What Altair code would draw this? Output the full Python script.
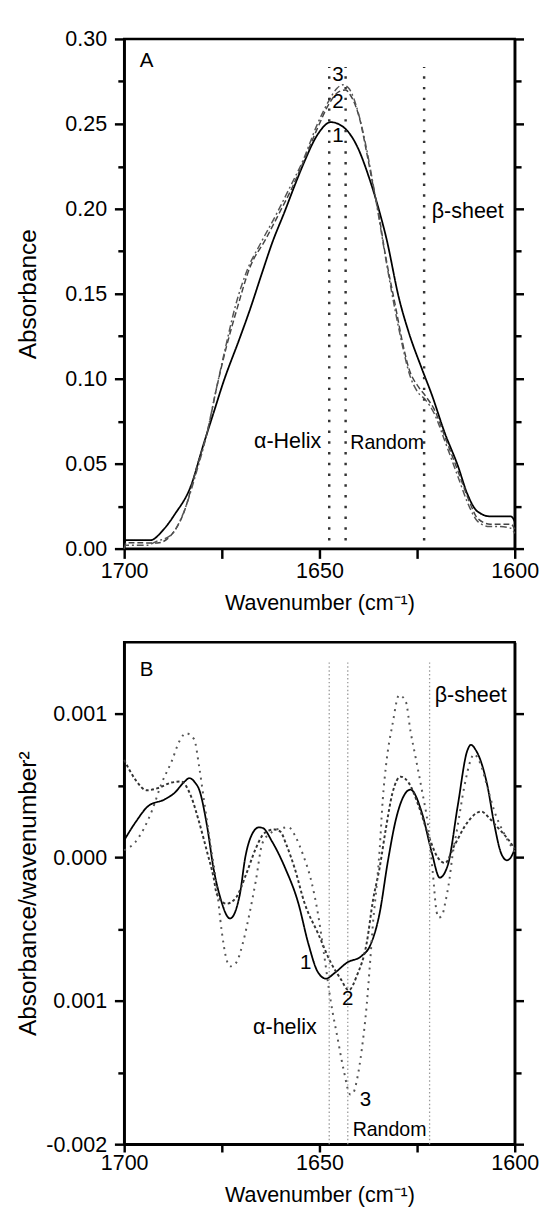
import altair as alt
import pandas as pd

FONT = "Liberation Sans"

# ---------------- Panel A: absorbance ----------------
a1_wn = [1700, 1699.6, 1693.3, 1690.0, 1687.1, 1682.9, 1679.6, 1677.1, 1674.6, 1670.4, 1667.9, 1664.6,
         1662.1, 1658.8, 1656.3, 1654.0, 1650.4, 1647.1, 1643.8, 1640.4, 1637.1, 1634.6, 1632.9, 1629.6,
         1627.1, 1623.8, 1621.3, 1617.9, 1614.6, 1612.1, 1609.6, 1606.3, 1601.0, 1600.0]
a1_y = [0.000, 0.005, 0.005, 0.011, 0.020, 0.037, 0.062, 0.080, 0.098, 0.124, 0.140, 0.163,
        0.180, 0.199, 0.214, 0.227, 0.244, 0.251, 0.248, 0.237, 0.217, 0.198, 0.183, 0.147,
        0.127, 0.106, 0.091, 0.068, 0.049, 0.032, 0.022, 0.019, 0.019, 0.016]

a2_wn = [1700, 1699.5, 1691.5, 1687.1, 1684.6, 1681.3, 1678.8, 1676.3, 1673.8, 1671.0, 1667.9, 1663.8,
         1660.4, 1657.1, 1654.6, 1650.4, 1647.5, 1645.0, 1643.3, 1642.1, 1639.6, 1637.9, 1636.3, 1634.6,
         1633.5, 1630.4, 1628.8, 1627.1, 1624.6, 1622.9, 1620.4, 1617.9, 1614.6, 1611.3, 1609.6, 1606.3,
         1601.0, 1600.0]
a2_y = [0.000, 0.0035, 0.0033, 0.0105, 0.022, 0.049, 0.068, 0.095, 0.119, 0.142, 0.165, 0.182,
        0.197, 0.212, 0.225, 0.248, 0.262, 0.269, 0.270, 0.267, 0.252, 0.233, 0.214, 0.194,
        0.178, 0.141, 0.122, 0.106, 0.095, 0.090, 0.081, 0.066, 0.046, 0.026, 0.018, 0.0144,
        0.0144, 0.0115]

a3_wn = [1700, 1699.5, 1694.0, 1692.0, 1688.0, 1685.0, 1681.5, 1679.0, 1676.5, 1674.0, 1671.5, 1668.5,
         1665.0, 1661.0, 1657.5, 1654.5, 1650.5, 1647.5, 1645.5, 1644.0, 1642.5, 1640.0, 1638.0, 1636.3,
         1634.8, 1633.5, 1630.6, 1628.8, 1627.0, 1624.8, 1623.0, 1620.5, 1618.0, 1614.8, 1611.5, 1609.5,
         1606.5, 1604.0, 1601.0, 1600.0]
a3_y = [0.000, 0.002, 0.002, 0.004, 0.008, 0.020, 0.045, 0.066, 0.093, 0.119, 0.143, 0.164,
        0.180, 0.197, 0.213, 0.227, 0.250, 0.264, 0.271, 0.273, 0.271, 0.256, 0.236, 0.215,
        0.195, 0.177, 0.140, 0.120, 0.103, 0.092, 0.088, 0.079, 0.064, 0.044, 0.024, 0.016,
        0.013, 0.013, 0.012, 0.009]

a_rule_wn = [1647.5, 1643.3, 1623.2]
a_rule_lo = [0.0048, 0.0048, 0.0048]
a_rule_hi = [0.2835, 0.2835, 0.2835]

a_lab_text = ["A", "3", "2", "1", "β-sheet", "α-Helix", "Random"]
a_lab_wn = [1694.25, 1645.25, 1645.25, 1645.25, 1621.25, 1666.75, 1642.1]
a_lab_y = [0.2868, 0.2787, 0.2626, 0.2425, 0.1989, 0.0632, 0.0622]
a_lab_align = ["center", "center", "center", "center", "left", "left", "left"]
a_lab_size = [21, 21, 21, 21, 22, 22, 20]

ya_ticks = [0.0, 0.025, 0.05, 0.075, 0.10, 0.125, 0.15, 0.175, 0.20, 0.225, 0.25, 0.275, 0.30]
ya_labels = ["0.00", "", "0.05", "", "0.10", "", "0.15", "", "0.20", "", "0.25", "", "0.30"]

# ---------------- Panel B: second derivative (values x 1e-3) ----------------
b1_wn = [1700, 1697.1, 1693.8, 1689.6, 1687.1, 1684.5, 1683.3, 1681.8, 1680.8, 1678.8, 1677.1, 1675.4,
         1672.9, 1670.4, 1669.0, 1667.1, 1665.5, 1664.5, 1662.1, 1658.8, 1655.4, 1652.9, 1650.4, 1648.3,
         1646.3, 1642.9, 1639.2, 1637.1, 1634.6, 1632.5, 1630.4, 1626.7, 1623.8, 1621.3, 1619.2, 1617.1,
         1614.6, 1612.2, 1611.2, 1610.0, 1608.8, 1607.0, 1605.3, 1603.5, 1602.0, 1601.0, 1600.0]
b1_v = [0.12, 0.245, 0.359, 0.405, 0.45, 0.53, 0.553, 0.52, 0.473, 0.222, -0.08, -0.28,
        -0.426, -0.26, 0.0, 0.17, 0.21, 0.205, 0.109, -0.073, -0.32, -0.596, -0.80, -0.846,
        -0.81, -0.733, -0.687, -0.619, -0.39, -0.03, 0.268, 0.473, 0.314, 0.041, -0.141, -0.05,
        0.359, 0.74, 0.785, 0.75, 0.68, 0.50, 0.24, 0.03, -0.02, 0.0, 0.06]

b2_wn = [1700, 1697.1, 1694.2, 1691.3, 1687.9, 1685.4, 1682.9, 1680.8, 1678.8, 1677.1, 1676.3, 1673.8,
         1671.3, 1668.8, 1666.3, 1664.6, 1662.9, 1661.5, 1660.0, 1658.5, 1656.3, 1653.8, 1650.4, 1647.1,
         1644.6, 1642.5, 1640.4, 1637.9, 1636.3, 1634.6, 1633.0, 1631.3, 1629.2, 1627.1, 1624.6, 1622.1,
         1619.6, 1617.9, 1615.4, 1612.1, 1608.6, 1606.3, 1604.4, 1601.8, 1600.0]
b2_v = [0.68, 0.541, 0.468, 0.484, 0.522, 0.529, 0.427, 0.245, 0.041, -0.141, -0.255, -0.323,
        -0.278, -0.119, 0.063, 0.154, 0.188, 0.195, 0.18, 0.09, -0.08, -0.32, -0.528, -0.733,
        -0.846, -0.926, -0.823, -0.596, -0.30, -0.073, 0.2, 0.45, 0.563, 0.518, 0.359, 0.154,
        -0.005, -0.039, 0.086, 0.245, 0.32, 0.268, 0.21, 0.13, 0.06]

b3_wn = [1700, 1697.1, 1692.9, 1690.4, 1687.9, 1685.8, 1684.2, 1682.1, 1680.8, 1679.6, 1677.9, 1676.5,
         1675.0, 1673.9, 1672.9, 1671.3, 1669.6, 1667.9, 1666.3, 1664.6, 1662.0, 1659.5, 1657.9, 1656.3,
         1654.2, 1652.1, 1650.4, 1648.8, 1647.1, 1645.4, 1643.8, 1642.1, 1641.3, 1640.4, 1639.2, 1637.9,
         1637.1, 1636.3, 1635.4, 1634.6, 1633.8, 1632.9, 1631.3, 1629.6, 1627.9, 1626.7, 1625.4, 1623.8,
         1622.1, 1621.0, 1620.0, 1619.4, 1618.4, 1617.9, 1616.7, 1616.0, 1614.6, 1612.9, 1611.3, 1610.5,
         1608.8, 1607.1, 1605.3, 1602.6, 1600.0]
b3_v = [0.05, 0.109, 0.325, 0.518, 0.666, 0.814, 0.866, 0.825, 0.632, 0.405, 0.086, -0.16,
        -0.52, -0.70, -0.76, -0.733, -0.596, -0.39, -0.164, 0.10, 0.18, 0.205, 0.211, 0.154,
        0.018, -0.164, -0.39, -0.68, -1.005, -1.255, -1.483, -1.653, -1.64, -1.551, -1.347, -1.028,
        -0.755, -0.46, -0.21, 0.05, 0.40, 0.655, 0.928, 1.132, 1.087, 0.882, 0.70, 0.473,
        0.20, -0.10, -0.38, -0.42, -0.39, -0.33, -0.15, 0.0, 0.222, 0.495, 0.677, 0.72,
        0.655, 0.50, 0.33, 0.16, 0.04]

b_rule_wn = [1647.5, 1642.75, 1621.8]
b_rule_lo = [-2.0, -2.0, -2.0]
b_rule_hi = [1.36, 1.36, 1.36]

b_lab_text = ["B", "1", "2", "3", "β-sheet", "α-helix", "Random"]
b_lab_wn = [1694.25, 1653.5, 1642.75, 1638.25, 1620.5, 1667.0, 1641.5]
b_lab_v = [1.305, -0.735, -0.987, -1.693, 1.134, -1.185, -1.901]
b_lab_align = ["center", "center", "center", "center", "left", "left", "left"]
b_lab_size = [21, 21, 21, 21, 22, 22, 20]

yb_ticks = [-2.0, -1.5, -1.0, -0.5, 0.0, 0.5, 1.0]
yb_labels = ["-0.002", "", "0.001", "", "0.000", "", "0.001"]

x_ticks = [1700, 1675, 1650, 1625, 1600]
x_labels = ["1700", "", "1650", "", "1600"]

SCALE_B = 1e-3
TICK_FS = 22
XTITLE_FS = 22
YTITLE_FS = 25


def label_expr(vals, labs, eps):
    parts = [f"abs(datum.value - ({v})) < {eps} ? '{l}'" for v, l in zip(vals, labs) if l]
    return " : ".join(parts) + " : ''"


def major_test(vals, labs, eps):
    return " || ".join(f"abs(datum.value - ({v})) < {eps}" for v, l in zip(vals, labs) if l)


def df_xy(wn, y, k=1.0):
    return pd.DataFrame({"wn": wn, "v": [val * k for val in y]})


def make_x(tick_size, label_pad, title_pad):
    return alt.X("wn:Q",
                 scale=alt.Scale(domain=[1600, 1700], reverse=True, nice=False, zero=False),
                 axis=alt.Axis(values=x_ticks, labelExpr=label_expr(x_ticks, x_labels, 0.01),
                               tickSize=tick_size, labelPadding=label_pad,
                               titlePadding=title_pad, titleFontSize=XTITLE_FS),
                 title="Wavenumber (cm⁻¹)")


def make_panel(series, ydom, yvals, ylabs, ytitle, eps, rules, rule_style,
               labels, w, h, x_enc):
    yscale = alt.Scale(domain=ydom, nice=False, zero=False)
    tdash = {"condition": {"test": major_test(yvals, ylabs, eps), "value": [12, 1]},
             "value": [6.5, 20]}
    yaxis = alt.Axis(values=yvals, labelExpr=label_expr(yvals, ylabs, eps), tickSize=10,
                     tickDash=tdash, labelPadding=8, minExtent=78, maxExtent=78,
                     titlePadding=8, titleFontSize=YTITLE_FS)
    raxis = alt.Axis(orient="right", values=yvals, labels=False, tickSize=9, tickDash=tdash,
                     title=None, minExtent=9, maxExtent=9)

    def Y(field):
        return alt.Y(field, type="quantitative", scale=yscale, axis=yaxis, title=ytitle)

    layers = []
    for df, color, width, dash in series:
        layers.append(alt.Chart(df).mark_line(color=color, strokeWidth=width, strokeDash=dash,
                                              interpolate="monotone")
                      .encode(x=x_enc, y=Y("v")))
    rdf = pd.DataFrame({"wn": rules[0], "lo": rules[1], "hi": rules[2]})
    layers.append(alt.Chart(rdf).mark_rule(**rule_style)
                  .encode(x=x_enc, y=Y("lo"), y2="hi"))
    text, wn, yv, aligns, sizes = labels
    for t, xw, yy, al, fs in zip(text, wn, yv, aligns, sizes):
        tdf = pd.DataFrame({"wn": [xw], "v": [yy], "t": [t]})
        layers.append(alt.Chart(tdf).mark_text(font=FONT, fontSize=fs, align=al,
                                               baseline="middle", color="black")
                      .encode(x=x_enc, y=Y("v"), text="t:N"))
    main = alt.layer(*layers)
    right = (alt.Chart(series[0][0]).mark_line(opacity=0)
             .encode(x=x_enc, y=alt.Y("v:Q", scale=yscale, axis=raxis)))
    return alt.layer(main, right).resolve_scale(y="independent").properties(width=w, height=h)


panelA = make_panel(
    [(df_xy(a1_wn, a1_y), "black", 1.8, [1, 0]),
     (df_xy(a2_wn, a2_y), "#444444", 1.5, [6, 3]),
     (df_xy(a3_wn, a3_y), "#555555", 1.5, [7, 3, 2, 3])],
    [0, 0.30], ya_ticks, ya_labels, "Absorbance", 1e-4,
    (a_rule_wn, a_rule_lo, a_rule_hi),
    dict(color="#333333", strokeWidth=2.5, strokeDash=[2.5, 8.5]),
    (a_lab_text, a_lab_wn, a_lab_y, a_lab_align, a_lab_size),
    400, 522, make_x(10, 3, 11))

panelB = make_panel(
    [(df_xy(b1_wn, b1_v, SCALE_B), "black", 1.8, [1, 0]),
     (df_xy(b2_wn, b2_v, SCALE_B), "#333333", 2.0, [3, 2.5]),
     (df_xy(b3_wn, b3_v, SCALE_B), "#555555", 2.0, [2, 5])],
    [-2.0 * SCALE_B, 1.5 * SCALE_B], [t * SCALE_B for t in yb_ticks], yb_labels,
    "Absorbance/wavenumber²", 1e-7,
    (b_rule_wn, [v * SCALE_B for v in b_rule_lo], [v * SCALE_B for v in b_rule_hi]),
    dict(color="#999999", strokeWidth=1.3, strokeDash=[1.5, 2.5]),
    (b_lab_text, b_lab_wn, [v * SCALE_B for v in b_lab_v], b_lab_align, b_lab_size),
    400, 514, make_x(8, 1, 12))

chart = (alt.vconcat(panelA, panelB, spacing=26)
         .properties(padding={"left": 6, "top": 4, "right": 5, "bottom": 0})
         .configure_view(stroke="black", strokeWidth=2.5)
         .configure_axis(labelFont=FONT, titleFont=FONT, labelFontSize=TICK_FS,
                         titleFontWeight="normal", labelColor="black", titleColor="black",
                         domainColor="black", domainWidth=2.5, tickColor="black", tickWidth=2.5,
                         grid=False, labelFlush=False, labelOverlap=False))

chart.save("out.html", embed_options={"renderer": "svg", "actions": False})
